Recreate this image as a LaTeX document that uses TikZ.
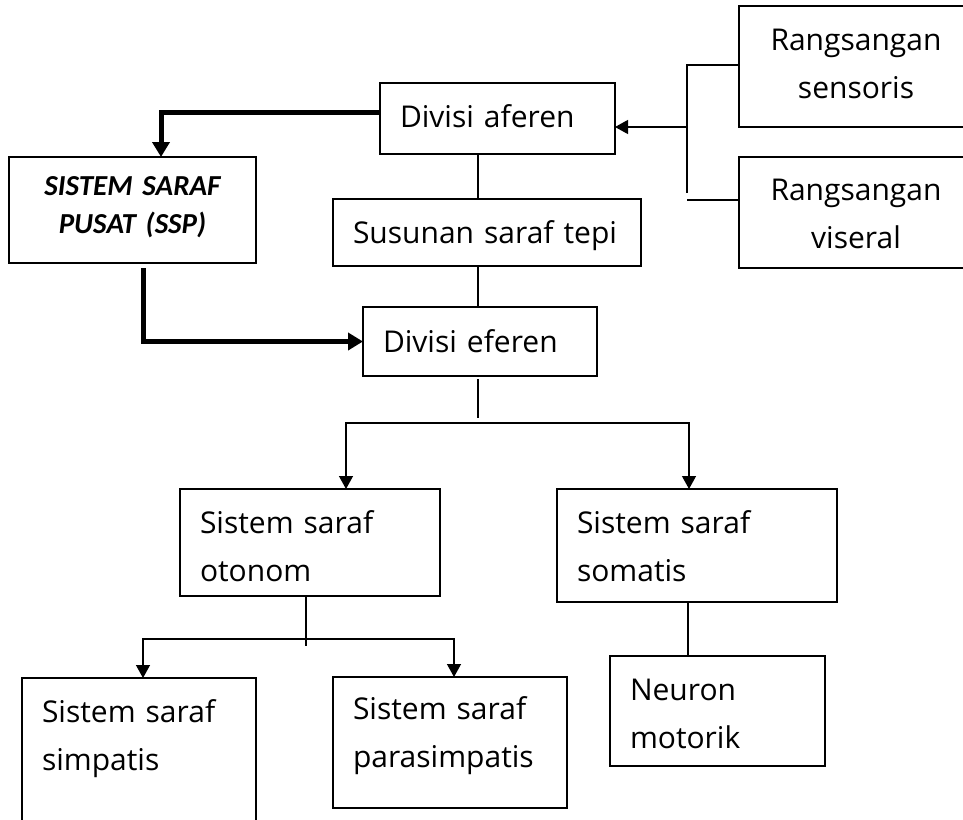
\documentclass[tikz,border=0pt]{standalone}
\usepackage{fontspec}
\setmainfont{Open Sans}
\newfontfamily\headfont{Carlito}
\usetikzlibrary{arrows.meta}
\tikzset{
  box/.style      = {draw, line width=1.6pt, anchor=north west, outer sep=0pt,
                     inner xsep=20pt, inner ysep=0pt, align=left,
                     text height=44pt, font=\fontsize{30}{48}\selectfont},
  cbox/.style     = {box, align=center},
  head/.style     = {box, align=center,
                     font=\headfont\bfseries\itshape\fontsize{29}{38}\selectfont},
  link/.style     = {line width=1.3pt},
  branch/.style   = {link, -{Triangle[length=13pt,width=14pt]}},
  mainflow/.style = {line width=5pt, -{Triangle[length=15pt,width=17pt]}}
}

\begin{document}
\begin{tikzpicture}[x=1pt, y=-1pt]
  \useasboundingbox (0,0) rectangle (963,819);
  \clip (0,0) rectangle (963,819);

  % Stimuli and afferent side
  \node[cbox, text width=194pt, text depth=77pt] (sensoris) at (739,6)   {Rangsangan\\sensoris};
  \node[cbox, text width=194pt, text height=43pt, text depth=68pt] (viseral) at (739,157) {Rangsangan\\viseral};
  \node[box, text width=195pt, text depth=27pt]  (aferen)   at (380,83)  {Divisi aferen};
  \node[box, text width=268pt, text depth=23pt]  (tepi)     at (333,199) {Susunan saraf tepi};
  \node[head, text width=207pt, text height=38pt, text depth=68pt] (ssp) at (9,157) {SISTEM SARAF\\PUSAT (SSP)};

  % Efferent side
  \node[box, text width=194pt, text height=45pt, text depth=24pt] (eferen) at (363,307) {Divisi eferen};
  \node[box, text width=220pt, text depth=63pt]  (otonom)   at (180,489) {Sistem saraf\\otonom};
  \node[box, text width=240pt, text depth=69pt]  (somatis)  at (557,489) {Sistem saraf\\somatis};

  % Bottom row
  \node[box, text width=194pt, text depth=116pt] (simpatis)     at (22,678)  {Sistem saraf\\simpatis};
  \node[box, text width=194pt, text height=42pt, text depth=89pt] (parasimpatis) at (333,677) {Sistem saraf\\parasimpatis};
  \node[box, text width=175pt, text depth=66pt]  (neuron)   at (610,656) {Neuron\\motorik};

  % Junction points
  \coordinate (bartop) at (687,65);
  \coordinate (barbot) at (687,193);
  \coordinate (split1) at (478,423);
  \coordinate (split2) at (306,639);

  % Stimuli into aferen
  \draw[link] (bartop -| sensoris.west) -- (bartop) -- (barbot);
  \draw[link] ([yshift=12.5pt]viseral.west) -- ++(-52,0);
  \draw[branch] ([yshift=-8.5pt]aferen.east -| bartop) -- ([yshift=-8.5pt]aferen.east);

  % Main flow through the SSP
  \draw[mainflow] ([yshift=6.5pt]aferen.west) -| ([xshift=28.5pt]ssp.north);
  \draw[mainflow] ([xshift=10.5pt,yshift=-5pt]ssp.south) |- (eferen.west);

  % Spine
  \draw[link] ([xshift=-19.5pt]aferen.south) -- ([xshift=-19.5pt]aferen.south |- tepi.north);
  \draw[link] ([xshift=-9pt]tepi.south) -- ([xshift=-9pt]tepi.south |- eferen.north);

  % Efferent branches
  \draw[link] ([xshift=-2pt,yshift=-3pt]eferen.south) -- ([yshift=5pt]split1);
  \draw[branch] (split1) -| ([xshift=36pt]otonom.north);
  \draw[branch] (split1) -| ([xshift=-8pt]somatis.north);

  \draw[link] ([xshift=-4pt]otonom.south) -- ([yshift=-7pt]split2);
  \draw[branch] (split2) -| ([xshift=4pt]simpatis.north);
  \draw[branch] (split2) -| ([xshift=4pt]parasimpatis.north);

  \draw[link] ([xshift=-9pt]somatis.south) -- ([xshift=-9pt]somatis.south |- neuron.north);
\end{tikzpicture}
\end{document}
